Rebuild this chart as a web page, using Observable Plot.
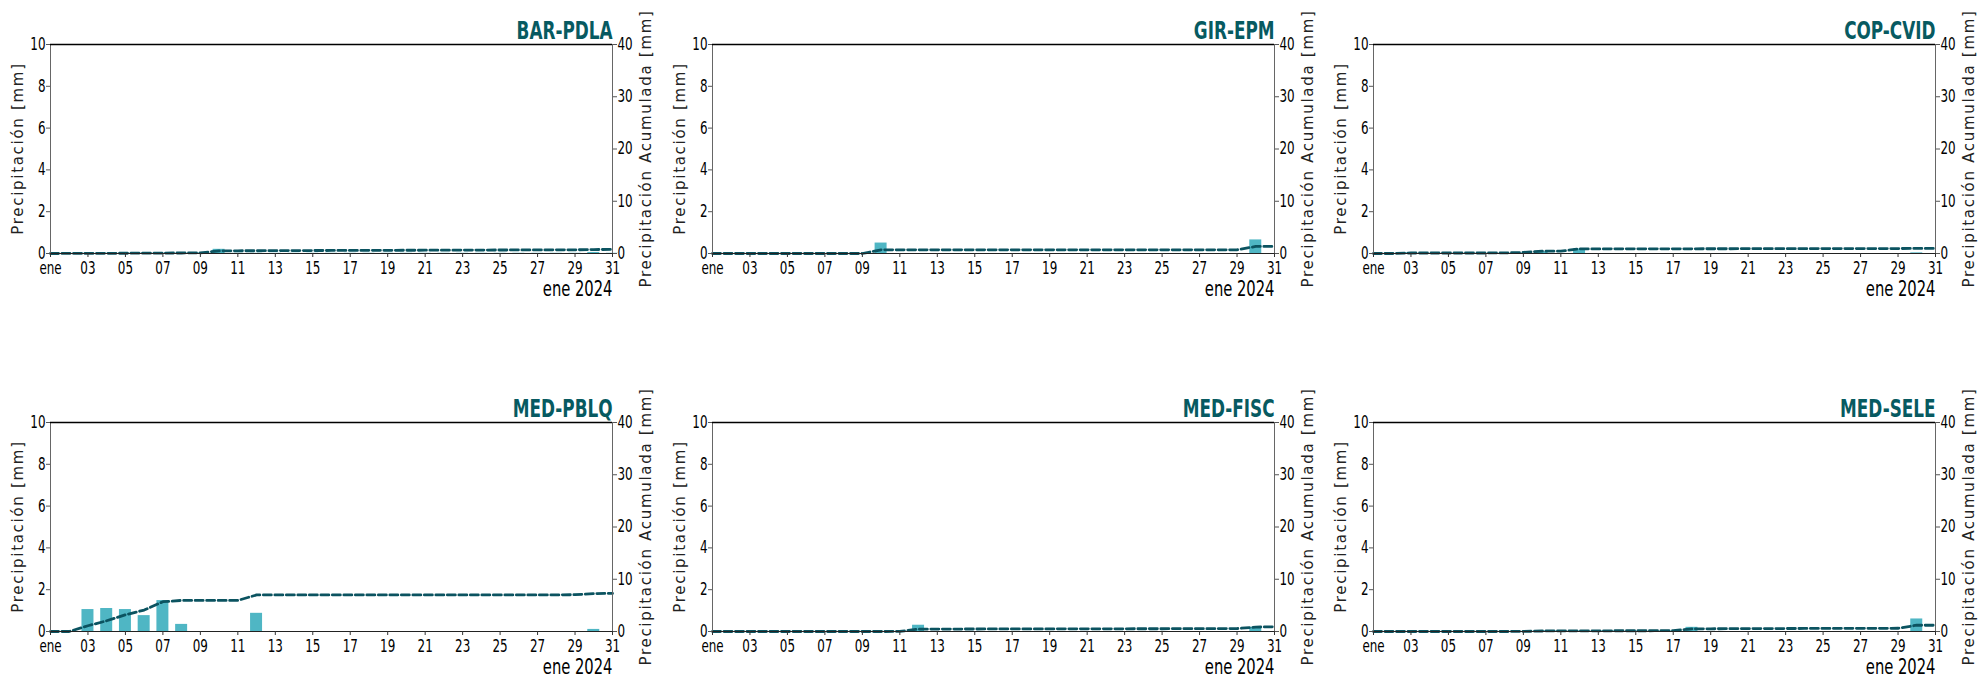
<!DOCTYPE html>
<html>
<head>
<meta charset="utf-8">
<script src="https://cdn.jsdelivr.net/npm/d3@7"></script>
<script src="https://cdn.jsdelivr.net/npm/@observablehq/plot@0.6"></script>
<style>
  body { margin: 0; background: #fff; }
  #chart { position: relative; width: 1988px; height: 678px; overflow: hidden; background: #fff; }
  #chart svg { position: absolute; }
</style>
</head>
<body>
<div id="chart"></div>
<script>
// ---------------- DATA ----------------
const days = [1,2,3,4,5,6,7,8,9,10,11,12,13,14,15,16,17,18,19,20,21,22,23,24,25,26,27,28,29,30,31];
const xTickDays = [1,3,5,7,9,11,13,15,17,19,21,23,25,27,29,31];
const xTickLabels = ["ene","03","05","07","09","11","13","15","17","19","21","23","25","27","29","31"];
const yLeftTicks = [0,2,4,6,8,10];
const yRightTicks = [0,10,20,30,40];
const monthLabel = "ene 2024";
const leftLabel = "Precipitación [mm]";
const rightLabel = "Precipitación Acumulada [mm]";

const stations = ["BAR-PDLA","GIR-EPM","COP-CVID","MED-PBLQ","MED-FISC","MED-SELE"];

// daily precipitation [mm]
const dailyBAR_PDLA = [0,0,0.01,0.01,0.01,0.01,0.01,0.01,0.02,0.2,0.01,0.01,0.01,0.01,0.01,0.01,0.01,0.01,0.01,0.01,0.01,0.01,0.01,0.01,0.01,0.01,0.01,0.01,0.01,0.05,0.01];
const dailyGIR_EPM  = [0,0,0,0,0,0,0,0,0,0.5,0,0,0,0,0,0,0,0,0,0,0,0,0,0,0,0,0,0,0,0.65,0];
const dailyCOP_CVID = [0,0,0.03,0,0,0,0,0,0.02,0.08,0,0.22,0,0,0,0,0,0,0,0,0,0,0,0,0,0,0,0,0,0.03,0];
const dailyMED_PBLQ = [0,0,1.05,1.1,1.05,0.76,1.48,0.34,0,0,0,0.87,0,0,0,0,0,0,0,0,0,0,0,0,0,0,0,0,0,0.1,0];
const dailyMED_FISC = [0,0,0,0,0,0,0,0,0,0,0,0.3,0,0,0,0,0,0,0,0,0,0,0,0,0,0,0,0,0,0.2,0];
const dailyMED_SELE = [0,0,0,0,0,0,0,0,0,0.03,0.02,0.02,0.02,0.02,0.02,0.02,0.02,0.2,0,0,0,0,0,0,0,0,0,0,0,0.6,0];

// cumulative precipitation [mm] (right axis)
const cumBAR_PDLA = [0,0.01,0.02,0.03,0.05,0.06,0.08,0.1,0.13,0.5,0.52,0.53,0.55,0.56,0.57,0.58,0.59,0.6,0.61,0.62,0.63,0.64,0.65,0.66,0.67,0.68,0.69,0.7,0.71,0.76,0.78];
const cumGIR_EPM  = [0,0,0,0,0,0,0,0,0,0.7,0.7,0.7,0.7,0.7,0.7,0.7,0.7,0.7,0.7,0.7,0.7,0.7,0.7,0.7,0.7,0.7,0.7,0.7,0.7,1.35,1.35];
const cumCOP_CVID = [0,0,0.1,0.1,0.1,0.1,0.1,0.12,0.2,0.45,0.45,0.88,0.88,0.89,0.89,0.9,0.9,0.9,0.91,0.91,0.92,0.92,0.93,0.93,0.94,0.94,0.95,0.95,0.95,0.97,0.98];
const cumMED_PBLQ = [0,0,1.1,2.05,3.2,4.1,5.7,5.95,5.95,5.95,5.95,7.0,7.0,7.0,7.0,7.0,7.0,7.0,7.0,7.0,7.0,7.0,7.0,7.0,7.0,7.0,7.0,7.0,7.05,7.25,7.3];
const cumMED_FISC = [0,0,0,0,0,0,0,0,0,0,0.02,0.45,0.46,0.47,0.48,0.49,0.49,0.5,0.5,0.51,0.51,0.52,0.52,0.53,0.53,0.54,0.54,0.55,0.56,0.85,0.9];
const cumMED_SELE = [0,0,0,0,0,0,0,0,0.02,0.1,0.12,0.13,0.13,0.14,0.14,0.15,0.15,0.5,0.52,0.54,0.55,0.56,0.57,0.58,0.59,0.6,0.6,0.61,0.62,1.2,1.2];

const dailySeries = [dailyBAR_PDLA, dailyGIR_EPM, dailyCOP_CVID, dailyMED_PBLQ, dailyMED_FISC, dailyMED_SELE];
const cumSeries = [cumBAR_PDLA, cumGIR_EPM, cumCOP_CVID, cumMED_PBLQ, cumMED_FISC, cumMED_SELE];

// ---------------- STYLE / LAYOUT ----------------
const leftMax = 10, rightMax = 40;
const BAR = "#4fb6c4", LINE = "#0b5360", TITLE = "#075a61";
const NARROW = "'Liberation Sans Narrow', 'DejaVu Sans Condensed', sans-serif";
const WIDE = "'DejaVu Sans', sans-serif";
const SQUEEZE = 0.78; // horizontal compression emulating a condensed face
const W = 664, H = 313, mL = 50, mR = 52, mT = 44, mB = 60;
const plotH = H - mT - mB;
const panelLefts = [0, 662, 1323];
const panelTops = [0, 378];

function panel(name, daily, cum) {
  const rows = days.map((d, i) => ({day: d, p: daily[i], c: cum[i]}));
  const k = leftMax / rightMax;
  const svg = Plot.plot({
    width: W, height: H,
    marginLeft: mL, marginRight: mR, marginTop: mT, marginBottom: mB,
    style: {fontFamily: NARROW, fontSize: "17px", color: "#000", background: "transparent", overflow: "visible"},
    x: {type: "linear", domain: [1, 31]},
    y: {domain: [0, leftMax]},
    marks: [
      Plot.rectY(rows.filter(r => r.p > 0), {x1: r => r.day - 0.32, x2: r => r.day + 0.32, y1: 0, y2: "p", fill: BAR}),
      Plot.line(rows, {x: "day", y: r => r.c * k, stroke: LINE, strokeWidth: 2.8, strokeDasharray: "8,3.5"}),
      Plot.ruleX([1, 31], {stroke: "#666", strokeWidth: 1}),
      Plot.ruleY([leftMax], {stroke: "#000", strokeWidth: 1.4}),
      Plot.ruleY([0], {stroke: "#222", strokeWidth: 1.2}),
      Plot.axisX(xTickDays, {anchor: "bottom", tickFormat: d => xTickLabels[xTickDays.indexOf(d)], tickSize: 4, tickPadding: 4, label: null, stroke: "#333", fill: "#000"}),
      Plot.axisY(yLeftTicks, {anchor: "left", tickSize: 4, tickPadding: 1, label: null, stroke: "#555", fill: "#000"}),
      Plot.axisY(yRightTicks.map(v => v * k), {anchor: "right", tickFormat: d => String(Math.round(d / k)), tickSize: 4, tickPadding: 1, label: null, stroke: "#555", fill: "#000"}),
      Plot.text([name], {frameAnchor: "top-right", dy: -6, lineAnchor: "bottom", textAnchor: "end", fontSize: 24, fontWeight: "bold", fill: TITLE}),
      Plot.text([monthLabel], {frameAnchor: "bottom-right", dy: 42, lineAnchor: "bottom", textAnchor: "end", fontSize: 21, fill: "#000"})
    ]
  });
  return svg;
}

const chart = document.getElementById("chart");
stations.forEach((name, i) => {
  const svg = panel(name, dailySeries[i], cumSeries[i]);
  svg.style.left = panelLefts[i % 3] + "px";
  svg.style.top = panelTops[Math.floor(i / 3)] + "px";
  chart.appendChild(svg);
  // condensed look for the narrow texts
  svg.querySelectorAll("text").forEach(t => {
    const len = t.getComputedTextLength();
    if (len > 0) {
      t.setAttribute("textLength", (len * SQUEEZE).toFixed(2));
      t.setAttribute("lengthAdjust", "spacingAndGlyphs");
    }
  });
  // axis titles
  const s = d3.select(svg);
  s.append("text")
    .attr("transform", `translate(${mL - 32},${mT + plotH / 2}) rotate(-90)`)
    .attr("text-anchor", "middle").attr("dominant-baseline", "central")
    .attr("font-family", WIDE).attr("font-size", 15).attr("letter-spacing", 1.7)
    .attr("fill", "#222").text(leftLabel);
  s.append("text")
    .attr("transform", `translate(${W - mR + 34},${mT + plotH / 2}) rotate(-90)`)
    .attr("text-anchor", "middle").attr("dominant-baseline", "central")
    .attr("font-family", WIDE).attr("font-size", 15).attr("letter-spacing", 1.7)
    .attr("fill", "#222").text(rightLabel);
});
</script>
</body>
</html>
